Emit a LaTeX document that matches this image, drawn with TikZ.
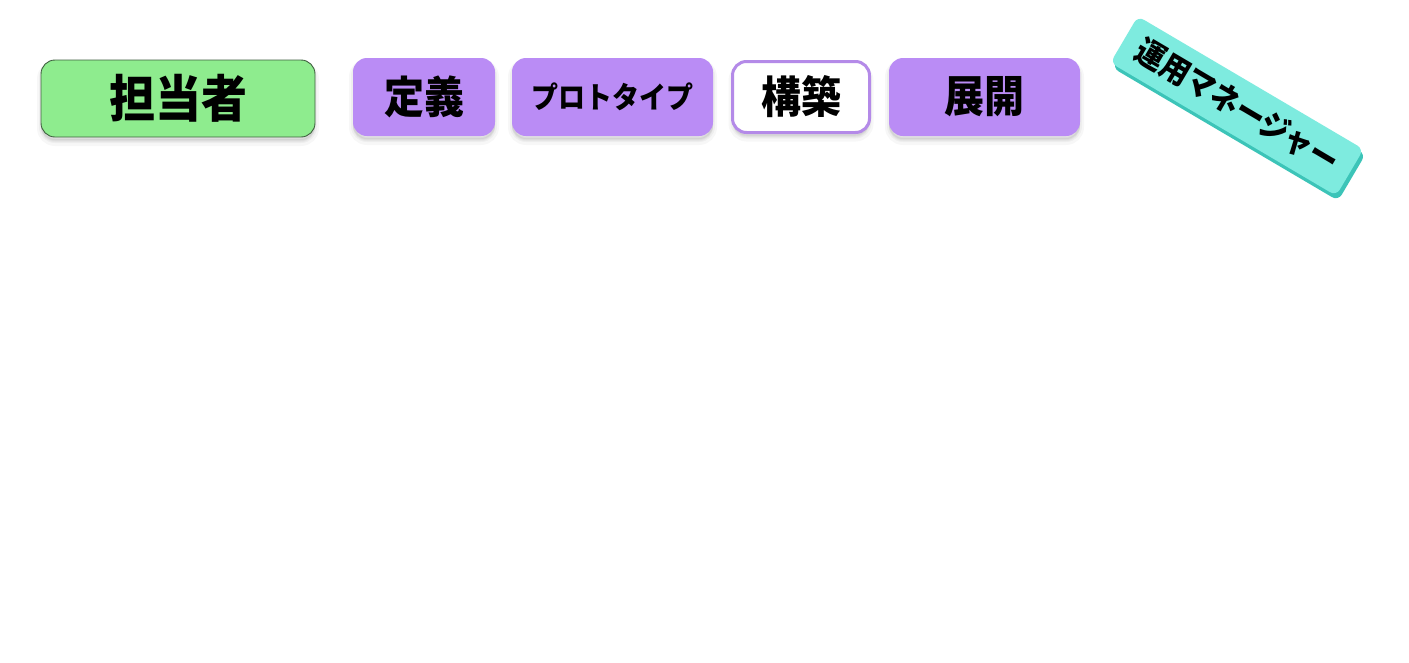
\documentclass[tikz,border=0pt]{standalone}
\usepackage{fontspec}
\setmainfont{Noto Sans CJK JP}
\definecolor{grn}{HTML}{8EEC8E}
\definecolor{grnline}{HTML}{3F5F3F}
\definecolor{pur}{HTML}{BA8CF5}
\definecolor{purline}{HTML}{B48AE8}
\definecolor{turq}{HTML}{7EEBDF}
\definecolor{turqd}{HTML}{3CC4B8}
\newcommand{\tallt}[1]{\scalebox{1}[1.1]{#1}}
\tikzset{
  shd/.style={
    preaction={fill=black, fill opacity=0.03, draw=black, draw opacity=0.03, line width=8pt, transform canvas={yshift=-5pt}},
    preaction={fill=black, fill opacity=0.035, draw=black, draw opacity=0.035, line width=4pt, transform canvas={yshift=-4pt}},
    preaction={fill=black, fill opacity=0.045, transform canvas={yshift=-3pt}}},
  box/.style={rounded corners=14pt, inner sep=0pt, font=\bfseries, text=black},
  greenbox/.style={box, shd, fill=grn, draw=grnline, line width=0.9pt},
  purbox/.style={box, shd, fill=pur},
  whitebox/.style={box, shd, fill=white, draw=purline, line width=3pt},
  tealbox/.style={box, rounded corners=7pt, fill=turq,
    preaction={fill=turqd, transform canvas={xshift=2pt,yshift=-5pt}}}
}
\begin{document}
\begin{tikzpicture}[x=1pt,y=-1pt]
\useasboundingbox[fill=white] (0,0) rectangle (1409,662);
\node[greenbox, minimum width=274pt, minimum height=77pt, font=\fontsize{46}{46}\selectfont\bfseries] (tanto) at (178,98.5) {\tallt{担当者}};
\node[purbox, minimum width=142pt, minimum height=78pt, font=\fontsize{40}{40}\selectfont\bfseries] (teigi) at (424,97) {\tallt{定義}};
\node[purbox, minimum width=201pt, minimum height=78pt, font=\fontsize{27}{27}\selectfont\bfseries] (proto) at (612.5,97) {\tallt{プロトタイプ}};
\node[whitebox, minimum width=137pt, minimum height=71pt, font=\fontsize{40}{40}\selectfont\bfseries] (kochiku) at (801,97) {\tallt{構築}};
\node[purbox, minimum width=191pt, minimum height=78pt, font=\fontsize{40}{40}\selectfont\bfseries] (tenkai) at (984.5,97) {\tallt{展開}};
\node[tealbox, rotate=-30.5, minimum width=262pt, minimum height=54pt, font=\fontsize{29}{29}\selectfont\bfseries] (unyo) at (1237,106) {\tallt{運用マネージャー}};
\end{tikzpicture}
\end{document}
